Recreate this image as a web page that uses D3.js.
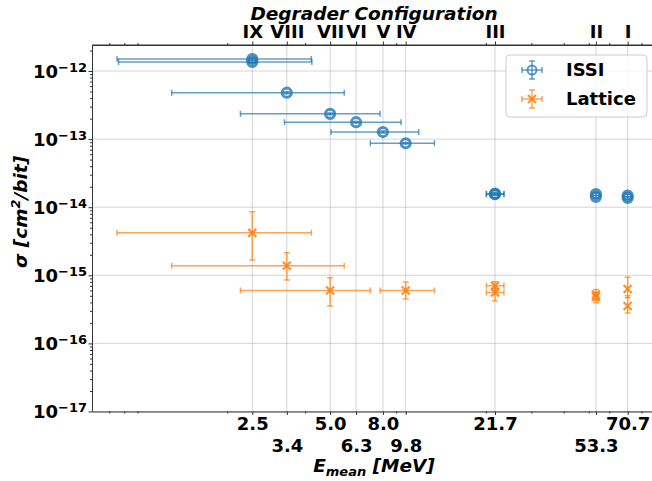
<!DOCTYPE html>
<html><head><meta charset="utf-8">
<script src="https://cdn.jsdelivr.net/npm/d3@7"></script>
<style>
body{margin:0;background:#fff;}
text{font-family:"DejaVu Sans",sans-serif;font-weight:bold;}
</style></head>
<body><svg id="c" width="652" height="481"></svg>
<script>
// ---- data ----
const energies = [2.5, 3.4, 5.0, 6.3, 8.0, 9.8, 21.7, 53.3, 70.7];
const energyLabels = ["2.5","3.4","5.0","6.3","8.0","9.8","21.7","53.3","70.7"];
const configs = ["IX","VIII","VII","VI","V","IV","III","II","I"];
const minorX = [0.7, 0.8, 0.9, 2, 4, 9, 20, 30, 40, 50, 60, 80];
const yTicks = [1e-17, 1e-16, 1e-15, 1e-14, 1e-13, 1e-12];
const yTickExp = ["−17","−16","−15","−14","−13","−12"];

const issiE      = [2.5, 2.5, 3.4, 5.0, 6.3, 8.0, 9.8, 21.7, 21.7, 53.3, 53.3, 70.7, 70.7];
const issiSigma  = [1.50e-12, 1.36e-12, 4.8e-13, 2.35e-13, 1.77e-13, 1.27e-13, 8.7e-14, 1.58e-14, 1.55e-14, 1.56e-14, 1.42e-14, 1.48e-14, 1.37e-14];
const issiELo    = [0.75, 0.76, 1.22, 2.25, 3.33, 5.04, 7.15, 20.1, 20.1, 53.3, 53.3, 70.7, 70.7];
const issiEHi    = [4.23, 4.25, 5.67, 7.8, 9.4, 11.0, 12.65, 23.5, 23.5, 53.3, 53.3, 70.7, 70.7];
const issiSigLo  = [1.45e-12, 1.31e-12, 4.65e-13, 2.28e-13, 1.72e-13, 1.23e-13, 8.45e-14, 1.52e-14, 1.5e-14, 1.48e-14, 1.35e-14, 1.41e-14, 1.31e-14];
const issiSigHi  = [1.55e-12, 1.41e-12, 4.95e-13, 2.42e-13, 1.82e-13, 1.31e-13, 8.95e-14, 1.64e-14, 1.6e-14, 1.64e-14, 1.49e-14, 1.55e-14, 1.43e-14];

const latE      = [2.5, 3.4, 5.0, 9.8, 21.7, 21.7, 53.3, 53.3, 70.7, 70.7];
const latSigma  = [4.2e-15, 1.38e-15, 6.0e-16, 6.0e-16, 7.0e-16, 5.6e-16, 5.2e-16, 4.8e-16, 6.3e-16, 3.55e-16];
const latELo    = [0.75, 1.22, 2.25, 7.8, 20.1, 20.1, 53.3, 53.3, 70.7, 70.7];
const latEHi    = [4.23, 5.67, 7.15, 12.65, 23.5, 23.5, 53.3, 53.3, 70.7, 70.7];
const latSigLo  = [1.68e-15, 8.5e-16, 3.55e-16, 4.5e-16, 5.9e-16, 4.2e-16, 4.3e-16, 3.96e-16, 4.7e-16, 2.8e-16];
const latSigHi  = [8.6e-15, 2.15e-15, 9.2e-16, 8.0e-16, 8.05e-16, 6.5e-16, 6.2e-16, 5.6e-16, 9.4e-16, 5.0e-16];

// ---- layout ----
const L = 92, R = 656, T = 45, B = 411.5;
const C1 = "#1f77b4", C2 = "#ff7f0e";
const svg = d3.select("#c");
const x = d3.scaleLog().domain([0.6, 91]).range([L, R]);
const y = d3.scaleLog().domain([1e-17, Math.pow(10, -11.618)]).range([B, T]);

svg.append("defs").append("clipPath").attr("id","clip")
  .append("rect").attr("x",L).attr("y",T).attr("width",R-L).attr("height",B-T);

// grid
const grid = svg.append("g").attr("stroke","#b0b0b0").attr("stroke-opacity",0.55).attr("stroke-width",1);
grid.selectAll("line.v").data(energies).join("line")
  .attr("x1",d=>x(d)).attr("x2",d=>x(d)).attr("y1",T).attr("y2",B);
grid.selectAll("line.h").data(yTicks).join("line")
  .attr("y1",d=>y(d)).attr("y2",d=>y(d)).attr("x1",L).attr("x2",R);

// axes
const axColor = "#333";
function styleAxis(g){
  g.select(".domain").attr("stroke",axColor);
  g.selectAll(".tick line").attr("stroke",axColor);
  g.selectAll("text").attr("fill","#000").style("font-size","18px").style("font-weight","bold");
}
const xb = svg.append("g").attr("transform",`translate(0,${B})`)
  .call(d3.axisBottom(x).tickValues(energies).tickFormat((d,i)=>energyLabels[i]).tickSize(3.5).tickSizeOuter(0).tickPadding(4));
styleAxis(xb);
xb.selectAll(".tick text").attr("y",(d,i)=> i%2===0 ? 6 : 28).attr("dy","0.71em");
svg.append("g").attr("transform",`translate(0,${B})`)
  .call(d3.axisBottom(x).tickValues(minorX).tickFormat("").tickSize(2).tickSizeOuter(0))
  .call(g=>{g.select(".domain").remove(); g.selectAll("line").attr("stroke",axColor);});

const xt = svg.append("g").attr("transform",`translate(0,${T})`)
  .call(d3.axisTop(x).tickValues(energies).tickFormat((d,i)=>configs[i]).tickSize(3.5).tickSizeOuter(0).tickPadding(4));
styleAxis(xt);
svg.append("g").attr("transform",`translate(0,${T})`)
  .call(d3.axisTop(x).tickValues(minorX).tickFormat("").tickSize(2).tickSizeOuter(0))
  .call(g=>{g.select(".domain").remove(); g.selectAll("line").attr("stroke",axColor);});

const yl = svg.append("g").attr("transform",`translate(${L},0)`)
  .call(d3.axisLeft(y).tickValues(yTicks).tickFormat("").tickSize(3.5).tickSizeOuter(0));
styleAxis(yl);
const yMinor = [];
for (let e=-17; e<=-12; e++) for (let m=2; m<=9; m++){ const v=m*Math.pow(10,e); if (v < y.domain()[1]) yMinor.push(v); }
svg.append("g").attr("transform",`translate(${L},0)`)
  .call(d3.axisLeft(y).tickValues(yMinor).tickFormat("").tickSize(2).tickSizeOuter(0))
  .call(g=>{g.select(".domain").remove(); g.selectAll("line").attr("stroke",axColor);});
yl.selectAll(".tick").each(function(d,i){
  const t = d3.select(this).append("text").attr("x",-5).attr("y",0).attr("dy","0.35em")
    .attr("text-anchor","end").attr("fill","#000").style("font-size","18px");
  t.append("tspan").text("10");
  t.append("tspan").attr("dy","-0.45em").style("font-size","13px").text(yTickExp[i]);
});

// titles
svg.append("text").attr("x",(L+R)/2).attr("y",20).attr("text-anchor","middle")
  .style("font-size","18.5px").style("font-style","italic").text("Degrader Configuration");
const xlab = svg.append("text").attr("x",(L+R)/2).attr("y",472).attr("text-anchor","middle")
  .style("font-size","18.5px").style("font-style","italic");
xlab.append("tspan").text("E");
xlab.append("tspan").attr("dy","4").style("font-size","13px").text("mean");
xlab.append("tspan").attr("dy","-4").text(" [MeV]");
const ylab = svg.append("text").attr("transform","translate(27,212) rotate(-90)").attr("text-anchor","middle")
  .style("font-size","18.5px").style("font-style","italic");
ylab.append("tspan").text("σ [cm");
ylab.append("tspan").attr("dy","-7").style("font-size","13px").text("2");
ylab.append("tspan").attr("dy","7").text("/bit]");

// data
const plot = svg.append("g").attr("clip-path","url(#clip)");
function errorbars(g, color, E, S, ELo, EHi, SLo, SHi){
  const idx = d3.range(E.length);
  const eg = g.append("g").attr("stroke",color).attr("stroke-width",1.5).attr("stroke-opacity",0.7).attr("fill","none");
  idx.forEach(i=>{
    const cx = x(E[i]), cy = y(S[i]);
    if (EHi[i] > ELo[i]) {
      eg.append("line").attr("x1",x(ELo[i])).attr("x2",x(EHi[i])).attr("y1",cy).attr("y2",cy);
      [ELo[i],EHi[i]].forEach(v=>eg.append("line").attr("x1",x(v)).attr("x2",x(v)).attr("y1",cy-3).attr("y2",cy+3));
    }
    eg.append("line").attr("x1",cx).attr("x2",cx).attr("y1",y(SLo[i])).attr("y2",y(SHi[i]));
    [SLo[i],SHi[i]].forEach(v=>eg.append("line").attr("x1",cx-3).attr("x2",cx+3).attr("y1",y(v)).attr("y2",y(v)));
  });
}
errorbars(plot, C1, issiE, issiSigma, issiELo, issiEHi, issiSigLo, issiSigHi);
plot.append("g").selectAll("circle").data(d3.range(issiE.length)).join("circle")
  .attr("cx",i=>x(issiE[i])).attr("cy",i=>y(issiSigma[i])).attr("r",4.6)
  .attr("fill","none").attr("stroke",C1).attr("stroke-width",3).attr("stroke-opacity",0.8);
errorbars(plot, C2, latE, latSigma, latELo, latEHi, latSigLo, latSigHi);
function xMark(g, cx, cy, color){
  g.append("path").attr("d",`M${cx-4},${cy-4}L${cx+4},${cy+4}M${cx-4},${cy+4}L${cx+4},${cy-4}`)
    .attr("stroke",color).attr("stroke-width",2.2).attr("stroke-opacity",0.85).attr("fill","none");
}
const lm = plot.append("g");
d3.range(latE.length).forEach(i=>xMark(lm, x(latE[i]), y(latSigma[i]), C2));

// spines
svg.append("line").attr("x1",L).attr("x2",R).attr("y1",T).attr("y2",T).attr("stroke",axColor);

// legend
const lg = svg.append("g");
lg.append("rect").attr("x",506).attr("y",55).attr("width",141).attr("height",62).attr("rx",4)
  .attr("fill","#fff").attr("fill-opacity",0.8).attr("stroke","#ccc");
function handle(cx, cy, color, type){
  const g = lg.append("g").attr("stroke",color).attr("stroke-width",1.5).attr("stroke-opacity",0.7).attr("fill","none");
  g.append("line").attr("x1",cx-10).attr("x2",cx+10).attr("y1",cy).attr("y2",cy);
  g.append("line").attr("x1",cx).attr("x2",cx).attr("y1",cy-9).attr("y2",cy+9);
  [cx-10,cx+10].forEach(v=>g.append("line").attr("x1",v).attr("x2",v).attr("y1",cy-3).attr("y2",cy+3));
  [cy-9,cy+9].forEach(v=>g.append("line").attr("x1",cx-3).attr("x2",cx+3).attr("y1",v).attr("y2",v));
  if (type==="o") lg.append("circle").attr("cx",cx).attr("cy",cy).attr("r",4.5).attr("fill","none")
    .attr("stroke",color).attr("stroke-width",2).attr("stroke-opacity",0.75);
  else xMark(lg, cx, cy, color);
}
handle(532, 70, C1, "o");
handle(532, 99, C2, "x");
lg.append("text").attr("x",566).attr("y",70).attr("dy","0.35em").style("font-size","18px").text("ISSI");
lg.append("text").attr("x",566).attr("y",99).attr("dy","0.35em").style("font-size","18px").text("Lattice");
</script></body></html>
